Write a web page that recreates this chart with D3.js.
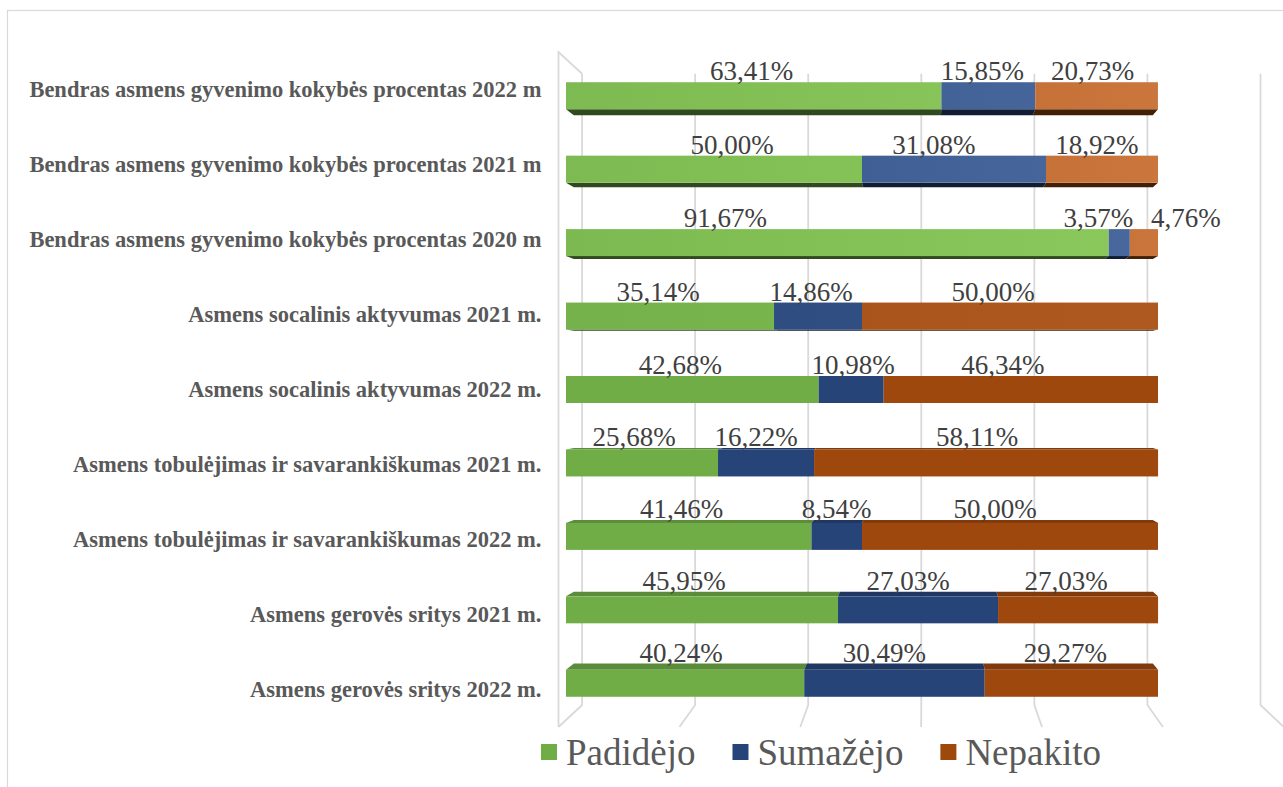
<!DOCTYPE html>
<html><head><meta charset="utf-8">
<script src="https://cdn.jsdelivr.net/npm/d3@7"></script>
<style>
html,body{margin:0;padding:0;background:#fff;}
svg{display:block;}
</style></head>
<body>
<svg id="chart" width="1283" height="787"></svg>
<script>
// Category rows, top to bottom
const categories = [
  "Bendras asmens gyvenimo kokybės procentas 2022 m",
  "Bendras asmens gyvenimo kokybės procentas 2021 m",
  "Bendras asmens gyvenimo kokybės procentas 2020 m",
  "Asmens socalinis aktyvumas 2021 m.",
  "Asmens socalinis aktyvumas 2022 m.",
  "Asmens tobulėjimas ir savarankiškumas 2021 m.",
  "Asmens tobulėjimas ir savarankiškumas 2022 m.",
  "Asmens gerovės sritys 2021 m.",
  "Asmens gerovės sritys 2022 m."
];
const seriesNames = ["Padidėjo", "Sumažėjo", "Nepakito"];
// Shares in percent
const padidejo = [63.41, 50.00, 91.67, 35.14, 42.68, 25.68, 41.46, 45.95, 40.24];
const sumazejo = [15.85, 31.08, 3.57, 14.86, 10.98, 16.22, 8.54, 27.03, 30.49];
const nepakito = [20.73, 18.92, 4.76, 50.00, 46.34, 58.11, 50.00, 27.03, 29.27];
// Value axis gridline positions (percent)
const valueTicks = [0, 20, 40, 60, 80, 100, 120];

const series = [padidejo, sumazejo, nepakito];
const baseColors = ["#70ad47", "#264478", "#9e480e"];
const litColors  = ["#8cca5e", "#4a6a9f", "#ca763c"];
// Horizontal nudges (px) for data labels that sit away from their segment centre
const labelShift = [
  [-2, -6, -4], [18, -20, -5], [-112, -21, 42], [-12, -7, -17], [-12, 2, -18],
  [-8, -10, -9], [-7, 0, -15], [-18, -10, -12], [-4, -10, -6]
];

const FONT = "'Liberation Serif', Tinos, 'Times New Roman', Times, 'DejaVu Serif', serif";

const svg = d3.select("#chart");
const defs = svg.append("defs");

// Simple one-point perspective: depth factor k pulls a point toward the vanishing point
const VX = 923, VY = 387;
const K_FLOOR = 1.021, K_FRONT = 1, K_BACK = 0.978, K_WALL = 0.955;
const P = (px, py, k) => [VX + (px - VX) * k, VY + (py - VY) * k];

const x = d3.scaleLinear().domain([0, 120]).range([566, 566 + 120 * 5.92]);
const y = d3.scaleBand().domain(categories).range([59, 720]);
const barH = 27;
const top0 = y.range()[0], bot0 = y.range()[1];

const gridColor = "#d9d9d9";

// Outer chart frame
svg.append("rect").attr("x", 7.5).attr("y", 10.5).attr("width", 1400).attr("height", 900)
  .attr("fill", "none").attr("stroke", gridColor).attr("stroke-width", 1.2);

// Back wall gridlines and their floor continuations
const grid = svg.append("g").attr("stroke", gridColor).attr("stroke-width", 1.8).attr("fill", "none");
valueTicks.forEach(t => {
  const a = P(x(t), top0, K_WALL), b = P(x(t), bot0, K_WALL), c = P(x(t), bot0, K_FLOOR);
  grid.append("path").attr("d", `M${a[0]},${a[1]}L${b[0]},${b[1]}L${c[0]},${c[1]}`);
});
// Left side wall edges
{
  const ft = P(x(0), top0, K_FLOOR), fb = P(x(0), bot0, K_FLOOR), bt = P(x(0), top0, K_WALL);
  grid.append("path").attr("d", `M${bt[0]},${bt[1]}L${ft[0]},${ft[1]}L${fb[0]},${fb[1]}`);
}

const fmt = v => d3.format(".2f")(v).replace(".", ",") + "%";
const clamp = (v, a, b) => Math.max(a, Math.min(b, v));

const bars = svg.append("g");
const labels = svg.append("g")
  .attr("font-family", FONT)
  .attr("font-size", 27).attr("fill", "#404040").attr("text-anchor", "middle");

categories.forEach((cat, i) => {
  const yc = y(cat) + y.bandwidth() / 2;
  const yt = yc - barH / 2, yb = yc + barH / 2;
  const light = clamp((360 - yc) / 120, 0, 1);
  const backTop = P(0, yt, K_BACK)[1], backBot = P(0, yb, K_BACK)[1];
  let cum = 0;
  const segs = series.map((s, j) => {
    const v = s[i];
    const seg = { j, v, x0: x(cum), x1: x(cum + v) };
    cum += v;
    return seg;
  });
  segs.forEach(s => {
    const base = baseColors[s.j];
    const gid = `g${i}_${s.j}`;
    const lg = defs.append("linearGradient").attr("id", gid)
      .attr("gradientUnits", "userSpaceOnUse")
      .attr("x1", x(0)).attr("x2", x(100)).attr("y1", 0).attr("y2", 0);
    lg.append("stop").attr("offset", 0).attr("stop-color", d3.interpolateRgb(base, litColors[s.j])(light * 0.45));
    lg.append("stop").attr("offset", 1).attr("stop-color", d3.interpolateRgb(base, litColors[s.j])(light));
    // top face (rows below eye level) or underside (rows above eye level)
    if (backTop < yt) {
      const pts = [P(s.x0, yt, K_FRONT), P(s.x1, yt, K_FRONT), P(s.x1, yt, K_BACK), P(s.x0, yt, K_BACK)];
      bars.append("polygon").attr("points", pts.map(p => p.join(",")).join(" "))
        .attr("fill", d3.color(base).darker(0.6));
    }
    if (backBot > yb) {
      const pts = [P(s.x0, yb, K_FRONT), P(s.x1, yb, K_FRONT), P(s.x1, yb, K_BACK), P(s.x0, yb, K_BACK)];
      bars.append("polygon").attr("points", pts.map(p => p.join(",")).join(" "))
        .attr("fill", d3.color(base).darker(2.4));
    }
    bars.append("rect").attr("x", s.x0).attr("y", yt).attr("width", s.x1 - s.x0).attr("height", barH)
      .attr("fill", `url(#${gid})`);
  });
  const base = Math.min(yt, backTop) - 2;
  segs.forEach(s => {
    labels.append("text").attr("x", (s.x0 + s.x1) / 2 + labelShift[i][s.j]).attr("y", base)
      .text(fmt(s.v));
  });
});

// Category labels
const catG = svg.append("g")
  .attr("font-family", FONT)
  .attr("font-weight", "bold").attr("font-size", 22.5).attr("fill", "#595959")
  .attr("text-anchor", "end");
categories.forEach(cat => {
  const yc = P(0, y(cat) + y.bandwidth() / 2, K_FLOOR)[1];
  catG.append("text").attr("x", P(x(0), 0, K_FLOOR)[0] - 17).attr("y", yc)
    .attr("dominant-baseline", "central").text(cat);
});

// Legend
const leg = svg.append("g").attr("transform", "translate(541,752)")
  .attr("font-family", FONT)
  .attr("font-size", 37).attr("fill", "#595959");
let lx = 0;
seriesNames.forEach((name, j) => {
  leg.append("rect").attr("x", lx).attr("y", -8).attr("width", 16).attr("height", 16).attr("fill", baseColors[j]);
  const t = leg.append("text").attr("x", lx + 25).attr("y", 0).attr("dominant-baseline", "central").text(name);
  lx += 25 + t.node().getComputedTextLength() + 37;
});
</script>
</body></html>
